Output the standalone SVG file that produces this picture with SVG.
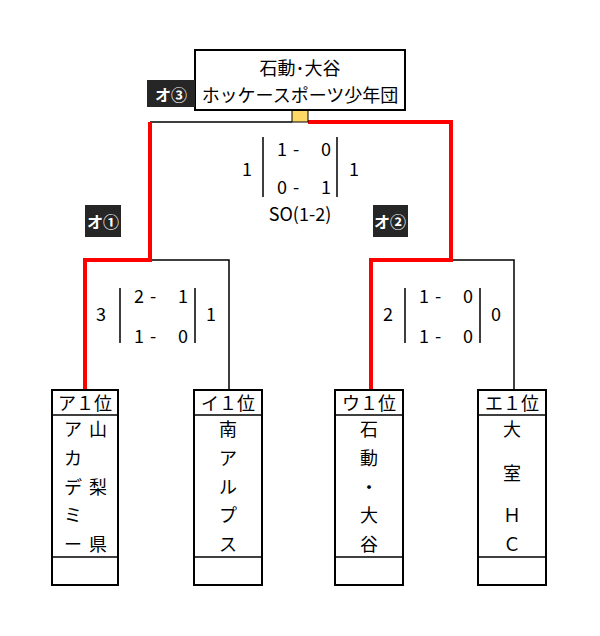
<svg xmlns="http://www.w3.org/2000/svg" width="600" height="636" viewBox="0 0 600 636">
<style>
text{font-family:"Noto Sans CJK JP","Liberation Sans",sans-serif;font-size:18px;fill:#000;text-anchor:middle;dominant-baseline:central}
.b{fill:#fff;stroke:#000;stroke-width:2}
.k{stroke:#000;stroke-width:1.5;fill:none}
.r{stroke:#f00;stroke-width:4;fill:none}
.tag{fill:#262626}
.tt{fill:#fff;font-size:16px;font-weight:bold}
</style>
<rect width="600" height="636" fill="#fff"/>
<g id="connectors">
<path class="k" d="M150 122H292M150 260H229V390M451 260H514V390"/>
<path class="k" d="M263 137V197M337 137V197M120 288V343M195 288V343M405 288V343M480 288V343"/>
<path class="r" d="M85 390V260H150V122M308 122H451V260H371V390"/>
<rect x="292" y="110" width="16" height="12" fill="#ffd966" stroke="#000" stroke-width="1"/>
</g>
<g id="champion">
<rect class="b" x="195" y="50" width="210" height="60"/>
<text x="300" y="67">石動･大谷</text>
<text x="300" y="94">ホッケースポーツ少年団</text>
<rect class="tag" x="147" y="80" width="48" height="27"/>
<text class="tt" x="171" y="94">オ③</text>
</g>
<g id="final-score">
<text x="247" y="168">1</text>
<text x="282" y="148">1</text><text x="296" y="148">-</text><text x="326" y="148">0</text>
<text x="282" y="186" font-size="17">0</text><text x="296" y="186" font-size="17">-</text><text x="326" y="186" font-size="17">1</text>
<text x="354" y="168">1</text>
<text x="300" y="213" font-size="14">SO(1-2)</text>
</g>
<g id="match1">
<rect class="tag" x="85" y="205" width="36" height="32"/>
<text class="tt" x="103" y="221" font-size="13">オ①</text>
<text x="101" y="313">3</text>
<text x="139" y="295">2</text><text x="153" y="295">-</text><text x="183" y="295">1</text>
<text x="139" y="335">1</text><text x="153" y="335">-</text><text x="183" y="335">0</text>
<text x="211" y="313">1</text>
</g>
<g id="match2">
<rect class="tag" x="373" y="205" width="35" height="32"/>
<text class="tt" x="390" y="221" font-size="13">オ②</text>
<text x="388" y="313">2</text>
<text x="424" y="295">1</text><text x="438" y="295">-</text><text x="468" y="295">0</text>
<text x="424" y="335">1</text><text x="438" y="335">-</text><text x="468" y="335">0</text>
<text x="496" y="313">0</text>
</g>
<g id="team-a">
<rect class="b" x="52" y="390" width="66" height="195"/>
<path class="k" d="M52 415H118M52 557H118"/>
<text x="85" y="402">ア１位</text>
<text x="73" y="428">ア</text><text x="73" y="457">カ</text><text x="73" y="486">デ</text><text x="73" y="514">ミ</text><text x="73" y="543">ー</text>
<text x="98" y="428">山</text><text x="98" y="486">梨</text><text x="98" y="543">県</text>
</g>
<g id="team-i">
<rect class="b" x="194" y="390" width="68" height="195"/>
<path class="k" d="M194 415H262M194 557H262"/>
<text x="228" y="402">イ１位</text>
<text x="228" y="428">南</text><text x="228" y="457">ア</text><text x="228" y="486">ル</text><text x="228" y="514">プ</text><text x="228" y="543">ス</text>
</g>
<g id="team-u">
<rect class="b" x="335" y="390" width="68" height="195"/>
<path class="k" d="M335 415H403M335 557H403"/>
<text x="369" y="402">ウ１位</text>
<text x="369" y="428">石</text><text x="369" y="457">動</text><text x="369" y="486">・</text><text x="369" y="514">大</text><text x="369" y="543">谷</text>
</g>
<g id="team-e">
<rect class="b" x="478" y="390" width="68" height="195"/>
<path class="k" d="M478 415H546M478 557H546"/>
<text x="512" y="402">エ１位</text>
<text x="512" y="428">大</text><text x="512" y="472">室</text><text x="512" y="514">Ｈ</text><text x="512" y="543">Ｃ</text>
</g>
</svg>
